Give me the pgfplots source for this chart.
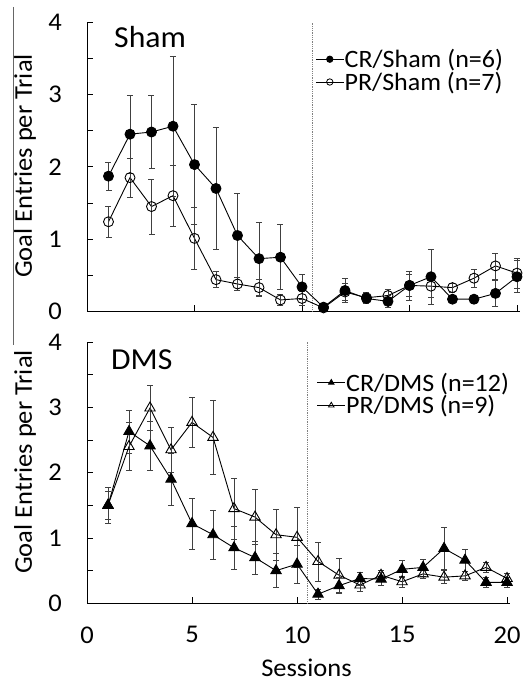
\documentclass[border=0pt]{standalone}
\usepackage{fontspec}
\setmainfont{Carlito}[FakeStretch=1.04]
\usepackage{pgfplots}
\pgfplotsset{compat=1.18}

\pgfplotsset{
  panel/.style={
    scale only axis,
    axis lines=left,
    axis line style={-, line width=1pt, black},
    xmin=0, xmax=20.14, ymin=0, ymax=4,
    xtick={0,5,10,15,20},
    ytick={0,1,2,3,4},
    minor ytick={0.5,1.5,2.5,3.5},
    tick align=inside,
    major tick length=6pt, minor tick length=6pt,
    every tick/.style={black, line width=0.8pt},
    clip=false,
    /pgf/number format/assume math mode=true,
    tick label style={font=\fontsize{25.5}{28}\selectfont},
    yticklabel style={inner sep=0pt, xshift=-25pt},
    xticklabel style={inner sep=0pt, yshift=-23pt},
    legend cell align=left,
    legend style={draw=none, fill=none, inner sep=0pt, row sep=2pt,
      nodes={inner sep=0.5pt, font=\fontsize{25}{28}\selectfont}},
    error bars/y dir=both, error bars/y explicit,
    error bars/error bar style={line width=0.7pt, black!75},
    error bars/error mark options={rotate=90, mark size=3pt, line width=0.7pt, black!75},
  },
  ser/.style={black, line width=0.9pt, mark options={line width=1.5pt},
    legend image code/.code={\draw[mark repeat=2, mark phase=2, mark size=3.2pt, line width=0.8pt]
      plot coordinates {(0pt,0pt) (14pt,0pt) (28pt,0pt)};}},
}

\begin{document}
\begin{tikzpicture}
\useasboundingbox (0pt,0pt) rectangle (524pt,681pt);

% ---------- top panel (Sham) ----------
\begin{axis}[panel, at={(87pt,369.5pt)}, anchor=south west,
  width=433pt, height=289.5pt, xticklabels={},
  legend style={at={(rel axis cs:0.527,0.908)}, anchor=north west}]
\addplot[densely dotted, black!50, line width=0.8pt, forget plot] coordinates {(10.5,0) (10.5,4)};
\addplot[ser, mark=*, mark size=5pt, mark options={fill=black}] table[x=s, y=m, y error=e] {
s m e
1 1.87 0.19
2 2.45 0.54
3 2.48 0.50
4 2.56 0.97
5 2.03 0.83
6 1.70 0.84
7 1.05 0.58
8 0.73 0.50
9 0.75 0.45
10 0.34 0.17
11 0.06 0.03
12 0.29 0.17
13 0.18 0.07
14 0.14 0.08
15 0.36 0.20
16 0.48 0.38
17 0.17 0.05
18 0.17 0.06
19 0.25 0.18
20 0.48 0.22
};
\addlegendentry{CR/Sham (n=6)}
\addplot[ser, mark=o, mark size=5pt, mark options={fill=white}] table[x=s, y=m, y error=e] {
s m e
1 1.24 0.21
2 1.85 0.27
3 1.45 0.38
4 1.60 0.42
5 1.01 0.43
6 0.44 0.11
7 0.38 0.09
8 0.33 0.12
9 0.16 0.08
10 0.18 0.10
11 0.05 0.03
12 0.27 0.12
13 0.19 0.07
14 0.22 0.08
15 0.36 0.15
16 0.35 0.15
17 0.33 0.06
18 0.46 0.12
19 0.63 0.18
20 0.53 0.21
};
\addlegendentry{PR/Sham (n=7)}
\end{axis}

% ---------- bottom panel (DMS) ----------
\begin{axis}[panel, at={(87pt,77.7pt)}, anchor=south west,
  width=423pt, height=261.3pt,
  legend style={at={(rel axis cs:0.543,0.885)}, anchor=north west}]
\addplot[densely dotted, black!50, line width=0.8pt, forget plot] coordinates {(10.5,0) (10.5,4)};
\addplot[ser, mark=triangle*, mark size=6pt, mark options={fill=black}] table[x=s, y=m, y error=e] {
s m e
1 1.50 0.28
2 2.63 0.33
3 2.41 0.37
4 1.90 0.40
5 1.22 0.39
6 1.05 0.37
7 0.85 0.33
8 0.70 0.25
9 0.50 0.26
10 0.60 0.29
11 0.14 0.08
12 0.27 0.12
13 0.38 0.10
14 0.37 0.10
15 0.52 0.13
16 0.55 0.13
17 0.84 0.32
18 0.66 0.17
19 0.32 0.07
20 0.32 0.08
};
\addlegendentry{CR/DMS (n=12)}
\addplot[ser, mark=triangle, mark size=6pt, mark options={fill=white}] table[x=s, y=m, y error=e] {
s m e
1 1.50 0.22
2 2.40 0.37
3 2.99 0.35
4 2.35 0.34
5 2.77 0.38
6 2.54 0.56
7 1.45 0.47
8 1.32 0.42
9 1.05 0.39
10 1.01 0.46
11 0.64 0.30
12 0.43 0.26
13 0.28 0.10
14 0.43 0.08
15 0.33 0.08
16 0.45 0.07
17 0.40 0.10
18 0.42 0.07
19 0.55 0.08
20 0.38 0.08
};
\addlegendentry{PR/DMS (n=9)}
\end{axis}

% ---------- texts ----------
\node[anchor=base west, inner sep=0pt, font=\fontsize{30.5}{34}\selectfont] at (114pt,633pt) {Sham};
\node[anchor=base west, inner sep=0pt, font=\fontsize{30.5}{34}\selectfont] at (111pt,311pt) {DMS};
\node[rotate=90, inner sep=0pt, font=\fontsize{25.5}{28}\selectfont] at (25pt,515pt) {Goal Entries per Trial};
\node[rotate=90, inner sep=0pt, font=\fontsize{25.5}{28}\selectfont] at (25pt,219pt) {Goal Entries per Trial};
\node[anchor=base, inner sep=0pt, font=\fontsize{25.5}{28}\selectfont] at (306.5pt,5pt) {Sessions};
\draw[line width=1pt, black!60] (13pt,674pt) -- (13pt,336pt);
\end{tikzpicture}
\end{document}
